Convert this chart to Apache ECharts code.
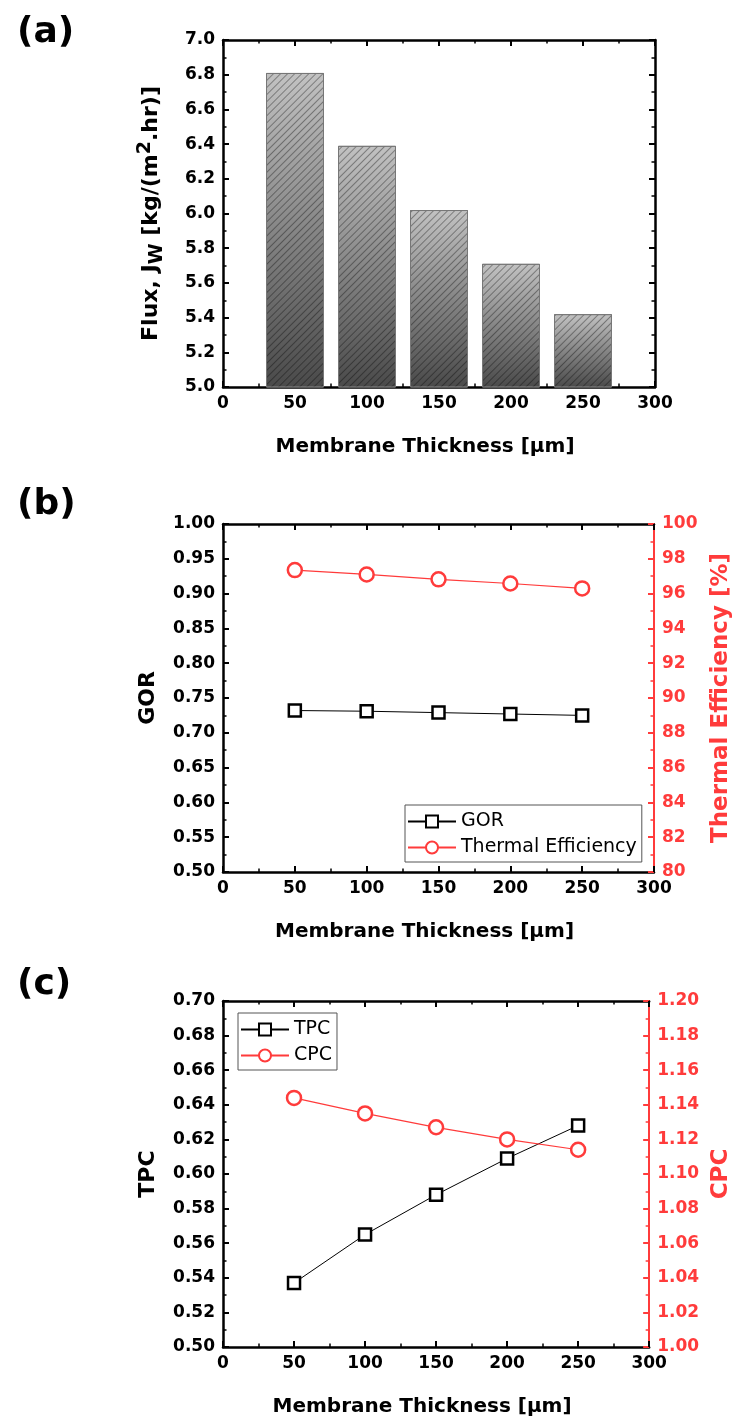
<!DOCTYPE html>
<html lang="en">
<head>
  <meta charset="UTF-8">
  <title>Membrane thickness</title>
  <script src="https://cdn.jsdelivr.net/npm/echarts@6/dist/echarts.min.js"></script>
  <style>
    html, body { margin: 0; padding: 0; background: #fff; }
    #chart { width: 741px; height: 1418px; }
  </style>
</head>
<body>
  <div id="chart"></div>
  <script>
    // --- data ---
    const thickness = [50, 100, 150, 200, 250];
    const flux = [6.81, 6.39, 6.02, 5.71, 5.42];
    const gor = [0.732, 0.731, 0.729, 0.727, 0.725];
    const thermalEff = [97.35, 97.1, 96.82, 96.58, 96.3];
    const tpc = [0.537, 0.565, 0.588, 0.609, 0.628];
    const cpc = [1.144, 1.135, 1.127, 1.120, 1.114];
    const panelLabels = ['(a)', '(b)', '(c)'];

    const FONT = '"DejaVu Sans", sans-serif';
    const RED = '#ff3b3b';
    const pair = (ys) => thickness.map((x, i) => [x, ys[i]]);

    const chart = echarts.init(document.getElementById('chart'), null, { renderer: 'canvas' });

    const gridTops = [40, 524, 1001];
    const gridHeights = [347, 348, 348];

    // common axis look (ticks inside, one minor tick between majors)
    const tickStyle = (color, lw) => ({
      axisLine: { show: true, onZero: false, lineStyle: { color: color, width: lw || 2.5 } },
      axisTick: { show: true, inside: true, length: 6, lineStyle: { color: color, width: 2 } },
      minorTick: { show: true, splitNumber: 2, length: 3.5, lineStyle: { color: color, width: 1.5 } },
      splitLine: { show: false }
    });
    const labelStyle = (color, fmt) => ({
      color: color, fontSize: 17, fontWeight: 'bold', fontFamily: FONT, margin: 8, formatter: fmt
    });
    const nameStyle = (color) => ({
      color: color, fontSize: 20, fontWeight: 'bold', fontFamily: FONT
    });

    const xAxes = [];
    const yAxes = [];
    gridTops.forEach((t, g) => {
      xAxes.push(Object.assign({
        type: 'value', gridIndex: g, position: 'bottom', min: 0, max: 300, interval: 50,
        name: 'Membrane Thickness [\u03bcm]', nameLocation: 'middle', nameGap: 50,
        nameTextStyle: Object.assign(nameStyle('#000'), { padding: [0, 28, 0, 0] }),
        axisLabel: labelStyle('#000')
      }, tickStyle('#000')));
      xAxes.push(Object.assign({
        type: 'value', gridIndex: g, position: 'top', min: 0, max: 300, interval: 50,
        axisLabel: { show: false }
      }, tickStyle('#000')));
    });

    // (a)
    const subSup = { fontSize: 19, fontWeight: 'bold', fontFamily: FONT, color: '#000' };
    yAxes.push(Object.assign({
      type: 'value', gridIndex: 0, position: 'left', min: 5, max: 7, interval: 0.2,
      name: 'Flux, J{s|W} [kg/(m{p|2}.hr)]', nameLocation: 'middle', nameGap: 56, nameRotate: 90,
      nameTextStyle: Object.assign(nameStyle('#000'), {
        fontSize: 22,
        rich: {
          s: Object.assign({ padding: [12, 0, 0, 0] }, subSup),
          p: Object.assign({ padding: [0, 0, 12, 0] }, subSup)
        }
      }),
      axisLabel: labelStyle('#000', (v) => v.toFixed(1))
    }, tickStyle('#000')));
    yAxes.push(Object.assign({
      type: 'value', gridIndex: 0, position: 'right', min: 5, max: 7, interval: 0.2,
      axisLabel: { show: false }
    }, tickStyle('#000')));

    // (b)
    yAxes.push(Object.assign({
      type: 'value', gridIndex: 1, position: 'left', min: 0.5, max: 1.0, interval: 0.05,
      name: 'GOR', nameLocation: 'middle', nameGap: 64, nameRotate: 90,
      nameTextStyle: Object.assign(nameStyle('#000'), { fontSize: 22 }),
      axisLabel: labelStyle('#000', (v) => v.toFixed(2))
    }, tickStyle('#000')));
    yAxes.push(Object.assign({
      type: 'value', gridIndex: 1, position: 'right', min: 80, max: 100, interval: 2,
      name: 'Thermal Efficiency [%]', nameLocation: 'middle', nameGap: 56, nameRotate: 90,
      nameTextStyle: Object.assign(nameStyle(RED), { fontSize: 23 }),
      axisLabel: labelStyle(RED, (v) => v.toFixed(0))
    }, tickStyle(RED, 2)));

    // (c)
    yAxes.push(Object.assign({
      type: 'value', gridIndex: 2, position: 'left', min: 0.5, max: 0.7, interval: 0.02,
      name: 'TPC', nameLocation: 'middle', nameGap: 64, nameRotate: 90,
      nameTextStyle: Object.assign(nameStyle('#000'), { fontSize: 22 }),
      axisLabel: labelStyle('#000', (v) => v.toFixed(2))
    }, tickStyle('#000')));
    yAxes.push(Object.assign({
      type: 'value', gridIndex: 2, position: 'right', min: 1.0, max: 1.2, interval: 0.02,
      name: 'CPC', nameLocation: 'middle', nameGap: 56, nameRotate: 90,
      nameTextStyle: Object.assign(nameStyle(RED), { fontSize: 23 }),
      axisLabel: labelStyle(RED, (v) => v.toFixed(2))
    }, tickStyle(RED, 2)));

    const squareSeries = (name, xi, yi, ys) => ({
      name: name, type: 'line', xAxisIndex: xi, yAxisIndex: yi, data: pair(ys),
      symbol: 'rect', symbolSize: 12,
      lineStyle: { color: '#000', width: 1 },
      itemStyle: { color: '#fff', borderColor: '#000', borderWidth: 2.5 },
      z: 3
    });
    const circleSeries = (name, xi, yi, ys) => ({
      name: name, type: 'line', xAxisIndex: xi, yAxisIndex: yi, data: pair(ys),
      symbol: 'circle', symbolSize: 14,
      lineStyle: { color: RED, width: 1.2 },
      itemStyle: { color: '#fff', borderColor: RED, borderWidth: 2.5 },
      z: 4
    });

    const legendBase = {
      orient: 'vertical', itemWidth: 48, itemHeight: 15, itemGap: 7,
      borderColor: '#555', borderWidth: 1, padding: [7, 5, 5, 2],
      textStyle: { fontSize: 19, fontFamily: FONT, color: '#000' }
    };

    const option = {
      animation: false,
      backgroundColor: '#fff',
      title: panelLabels.map((txt, i) => ({
        text: txt, left: 12, top: [10, 482, 962][i],
        textStyle: { fontSize: 36, fontWeight: 'bold', fontFamily: FONT, color: '#000' }
      })),
      grid: gridTops.map((t, i) => ({ left: 223, width: 432, top: t, height: gridHeights[i] })),
      xAxis: xAxes,
      yAxis: yAxes,
      legend: [
        Object.assign({ data: ['GOR', 'Thermal Efficiency'], left: 405, top: 805 }, legendBase),
        Object.assign({ data: ['TPC', 'CPC'], left: 238, top: 1013 }, legendBase)
      ],
      series: [
        {
          name: 'Flux', type: 'bar', xAxisIndex: 0, yAxisIndex: 0, data: pair(flux),
          barWidth: 58, clip: true,
          itemStyle: {
            color: {
              type: 'linear', x: 0, y: 0, x2: 0, y2: 1,
              colorStops: [{ offset: 0, color: '#c2c2c2' }, { offset: 1, color: '#4a4a4a' }]
            },
            borderColor: '#777', borderWidth: 1,
            decal: {
              symbol: 'rect', symbolSize: 1, dashArrayX: [1, 0], dashArrayY: [1, 3.5],
              rotation: -Math.PI / 4, color: 'rgba(0,0,0,0.35)'
            }
          }
        },
        squareSeries('GOR', 2, 2, gor),
        circleSeries('Thermal Efficiency', 3, 3, thermalEff),
        squareSeries('TPC', 4, 4, tpc),
        circleSeries('CPC', 5, 5, cpc)
      ]
    };

    chart.setOption(option);
  </script>
</body>
</html>
